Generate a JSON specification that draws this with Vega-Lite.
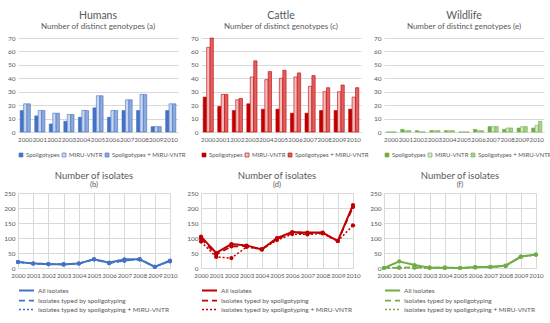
{
"$schema":"https://vega.github.io/schema/vega-lite/v6.json",
"padding":{"left":3,"right":3,"top":10,"bottom":2},
"datasets":{
"geno":[
{"h":"Humans","yr":"2000","t":"Spoligotypes","n":16},{"h":"Humans","yr":"2000","t":"MIRU-VNTR","n":21},{"h":"Humans","yr":"2000","t":"Spoligotypes + MIRU-VNTR","n":21},
{"h":"Humans","yr":"2001","t":"Spoligotypes","n":12},{"h":"Humans","yr":"2001","t":"MIRU-VNTR","n":16},{"h":"Humans","yr":"2001","t":"Spoligotypes + MIRU-VNTR","n":16},
{"h":"Humans","yr":"2002","t":"Spoligotypes","n":6},{"h":"Humans","yr":"2002","t":"MIRU-VNTR","n":14},{"h":"Humans","yr":"2002","t":"Spoligotypes + MIRU-VNTR","n":14},
{"h":"Humans","yr":"2003","t":"Spoligotypes","n":8},{"h":"Humans","yr":"2003","t":"MIRU-VNTR","n":13},{"h":"Humans","yr":"2003","t":"Spoligotypes + MIRU-VNTR","n":13},
{"h":"Humans","yr":"2004","t":"Spoligotypes","n":11},{"h":"Humans","yr":"2004","t":"MIRU-VNTR","n":16},{"h":"Humans","yr":"2004","t":"Spoligotypes + MIRU-VNTR","n":16},
{"h":"Humans","yr":"2005","t":"Spoligotypes","n":18},{"h":"Humans","yr":"2005","t":"MIRU-VNTR","n":27},{"h":"Humans","yr":"2005","t":"Spoligotypes + MIRU-VNTR","n":27},
{"h":"Humans","yr":"2006","t":"Spoligotypes","n":11},{"h":"Humans","yr":"2006","t":"MIRU-VNTR","n":16},{"h":"Humans","yr":"2006","t":"Spoligotypes + MIRU-VNTR","n":16},
{"h":"Humans","yr":"2007","t":"Spoligotypes","n":16},{"h":"Humans","yr":"2007","t":"MIRU-VNTR","n":24},{"h":"Humans","yr":"2007","t":"Spoligotypes + MIRU-VNTR","n":24},
{"h":"Humans","yr":"2008","t":"Spoligotypes","n":16},{"h":"Humans","yr":"2008","t":"MIRU-VNTR","n":28},{"h":"Humans","yr":"2008","t":"Spoligotypes + MIRU-VNTR","n":28},
{"h":"Humans","yr":"2009","t":"Spoligotypes","n":4},{"h":"Humans","yr":"2009","t":"MIRU-VNTR","n":4},{"h":"Humans","yr":"2009","t":"Spoligotypes + MIRU-VNTR","n":4},
{"h":"Humans","yr":"2010","t":"Spoligotypes","n":16},{"h":"Humans","yr":"2010","t":"MIRU-VNTR","n":21},{"h":"Humans","yr":"2010","t":"Spoligotypes + MIRU-VNTR","n":21},
{"h":"Cattle","yr":"2000","t":"Spoligotypes","n":26},{"h":"Cattle","yr":"2000","t":"MIRU-VNTR","n":63},{"h":"Cattle","yr":"2000","t":"Spoligotypes + MIRU-VNTR","n":70},
{"h":"Cattle","yr":"2001","t":"Spoligotypes","n":19},{"h":"Cattle","yr":"2001","t":"MIRU-VNTR","n":28},{"h":"Cattle","yr":"2001","t":"Spoligotypes + MIRU-VNTR","n":28},
{"h":"Cattle","yr":"2002","t":"Spoligotypes","n":16},{"h":"Cattle","yr":"2002","t":"MIRU-VNTR","n":24},{"h":"Cattle","yr":"2002","t":"Spoligotypes + MIRU-VNTR","n":25},
{"h":"Cattle","yr":"2003","t":"Spoligotypes","n":21},{"h":"Cattle","yr":"2003","t":"MIRU-VNTR","n":41},{"h":"Cattle","yr":"2003","t":"Spoligotypes + MIRU-VNTR","n":53},
{"h":"Cattle","yr":"2004","t":"Spoligotypes","n":17},{"h":"Cattle","yr":"2004","t":"MIRU-VNTR","n":39},{"h":"Cattle","yr":"2004","t":"Spoligotypes + MIRU-VNTR","n":45},
{"h":"Cattle","yr":"2005","t":"Spoligotypes","n":17},{"h":"Cattle","yr":"2005","t":"MIRU-VNTR","n":40},{"h":"Cattle","yr":"2005","t":"Spoligotypes + MIRU-VNTR","n":46},
{"h":"Cattle","yr":"2006","t":"Spoligotypes","n":14},{"h":"Cattle","yr":"2006","t":"MIRU-VNTR","n":41},{"h":"Cattle","yr":"2006","t":"Spoligotypes + MIRU-VNTR","n":44},
{"h":"Cattle","yr":"2007","t":"Spoligotypes","n":14},{"h":"Cattle","yr":"2007","t":"MIRU-VNTR","n":34},{"h":"Cattle","yr":"2007","t":"Spoligotypes + MIRU-VNTR","n":42},
{"h":"Cattle","yr":"2008","t":"Spoligotypes","n":16},{"h":"Cattle","yr":"2008","t":"MIRU-VNTR","n":30},{"h":"Cattle","yr":"2008","t":"Spoligotypes + MIRU-VNTR","n":33},
{"h":"Cattle","yr":"2009","t":"Spoligotypes","n":16},{"h":"Cattle","yr":"2009","t":"MIRU-VNTR","n":30},{"h":"Cattle","yr":"2009","t":"Spoligotypes + MIRU-VNTR","n":35},
{"h":"Cattle","yr":"2010","t":"Spoligotypes","n":17},{"h":"Cattle","yr":"2010","t":"MIRU-VNTR","n":26},{"h":"Cattle","yr":"2010","t":"Spoligotypes + MIRU-VNTR","n":33},
{"h":"Wildlife","yr":"2000","t":"Spoligotypes","n":0},{"h":"Wildlife","yr":"2000","t":"MIRU-VNTR","n":0},{"h":"Wildlife","yr":"2000","t":"Spoligotypes + MIRU-VNTR","n":0},
{"h":"Wildlife","yr":"2001","t":"Spoligotypes","n":2},{"h":"Wildlife","yr":"2001","t":"MIRU-VNTR","n":1},{"h":"Wildlife","yr":"2001","t":"Spoligotypes + MIRU-VNTR","n":1},
{"h":"Wildlife","yr":"2002","t":"Spoligotypes","n":1},{"h":"Wildlife","yr":"2002","t":"MIRU-VNTR","n":0},{"h":"Wildlife","yr":"2002","t":"Spoligotypes + MIRU-VNTR","n":0},
{"h":"Wildlife","yr":"2003","t":"Spoligotypes","n":1},{"h":"Wildlife","yr":"2003","t":"MIRU-VNTR","n":1},{"h":"Wildlife","yr":"2003","t":"Spoligotypes + MIRU-VNTR","n":1},
{"h":"Wildlife","yr":"2004","t":"Spoligotypes","n":1},{"h":"Wildlife","yr":"2004","t":"MIRU-VNTR","n":1},{"h":"Wildlife","yr":"2004","t":"Spoligotypes + MIRU-VNTR","n":1},
{"h":"Wildlife","yr":"2005","t":"Spoligotypes","n":0},{"h":"Wildlife","yr":"2005","t":"MIRU-VNTR","n":0},{"h":"Wildlife","yr":"2005","t":"Spoligotypes + MIRU-VNTR","n":0},
{"h":"Wildlife","yr":"2006","t":"Spoligotypes","n":2},{"h":"Wildlife","yr":"2006","t":"MIRU-VNTR","n":1},{"h":"Wildlife","yr":"2006","t":"Spoligotypes + MIRU-VNTR","n":1},
{"h":"Wildlife","yr":"2007","t":"Spoligotypes","n":4},{"h":"Wildlife","yr":"2007","t":"MIRU-VNTR","n":4},{"h":"Wildlife","yr":"2007","t":"Spoligotypes + MIRU-VNTR","n":4},
{"h":"Wildlife","yr":"2008","t":"Spoligotypes","n":2},{"h":"Wildlife","yr":"2008","t":"MIRU-VNTR","n":3},{"h":"Wildlife","yr":"2008","t":"Spoligotypes + MIRU-VNTR","n":3},
{"h":"Wildlife","yr":"2009","t":"Spoligotypes","n":3},{"h":"Wildlife","yr":"2009","t":"MIRU-VNTR","n":4},{"h":"Wildlife","yr":"2009","t":"Spoligotypes + MIRU-VNTR","n":4},
{"h":"Wildlife","yr":"2010","t":"Spoligotypes","n":3},{"h":"Wildlife","yr":"2010","t":"MIRU-VNTR","n":5},{"h":"Wildlife","yr":"2010","t":"Spoligotypes + MIRU-VNTR","n":8}
],
"iso":[
{"h":"Humans","yr":"2000","s":"All isolates","n":20},{"h":"Humans","yr":"2000","s":"Isolates typed by spoligotyping","n":20},{"h":"Humans","yr":"2000","s":"Isolates typed by spoligotyping + MIRU-VNTR","n":20},
{"h":"Humans","yr":"2001","s":"All isolates","n":15},{"h":"Humans","yr":"2001","s":"Isolates typed by spoligotyping","n":15},{"h":"Humans","yr":"2001","s":"Isolates typed by spoligotyping + MIRU-VNTR","n":15},
{"h":"Humans","yr":"2002","s":"All isolates","n":13},{"h":"Humans","yr":"2002","s":"Isolates typed by spoligotyping","n":13},{"h":"Humans","yr":"2002","s":"Isolates typed by spoligotyping + MIRU-VNTR","n":13},
{"h":"Humans","yr":"2003","s":"All isolates","n":12},{"h":"Humans","yr":"2003","s":"Isolates typed by spoligotyping","n":12},{"h":"Humans","yr":"2003","s":"Isolates typed by spoligotyping + MIRU-VNTR","n":12},
{"h":"Humans","yr":"2004","s":"All isolates","n":15},{"h":"Humans","yr":"2004","s":"Isolates typed by spoligotyping","n":15},{"h":"Humans","yr":"2004","s":"Isolates typed by spoligotyping + MIRU-VNTR","n":15},
{"h":"Humans","yr":"2005","s":"All isolates","n":29},{"h":"Humans","yr":"2005","s":"Isolates typed by spoligotyping","n":29},{"h":"Humans","yr":"2005","s":"Isolates typed by spoligotyping + MIRU-VNTR","n":29},
{"h":"Humans","yr":"2006","s":"All isolates","n":18},{"h":"Humans","yr":"2006","s":"Isolates typed by spoligotyping","n":16},{"h":"Humans","yr":"2006","s":"Isolates typed by spoligotyping + MIRU-VNTR","n":16},
{"h":"Humans","yr":"2007","s":"All isolates","n":29},{"h":"Humans","yr":"2007","s":"Isolates typed by spoligotyping","n":25},{"h":"Humans","yr":"2007","s":"Isolates typed by spoligotyping + MIRU-VNTR","n":24},
{"h":"Humans","yr":"2008","s":"All isolates","n":29},{"h":"Humans","yr":"2008","s":"Isolates typed by spoligotyping","n":29},{"h":"Humans","yr":"2008","s":"Isolates typed by spoligotyping + MIRU-VNTR","n":29},
{"h":"Humans","yr":"2009","s":"All isolates","n":4},{"h":"Humans","yr":"2009","s":"Isolates typed by spoligotyping","n":4},{"h":"Humans","yr":"2009","s":"Isolates typed by spoligotyping + MIRU-VNTR","n":4},
{"h":"Humans","yr":"2010","s":"All isolates","n":25},{"h":"Humans","yr":"2010","s":"Isolates typed by spoligotyping","n":23},{"h":"Humans","yr":"2010","s":"Isolates typed by spoligotyping + MIRU-VNTR","n":22},
{"h":"Cattle","yr":"2000","s":"All isolates","n":105},{"h":"Cattle","yr":"2000","s":"Isolates typed by spoligotyping","n":98},{"h":"Cattle","yr":"2000","s":"Isolates typed by spoligotyping + MIRU-VNTR","n":88},
{"h":"Cattle","yr":"2001","s":"All isolates","n":50},{"h":"Cattle","yr":"2001","s":"Isolates typed by spoligotyping","n":45},{"h":"Cattle","yr":"2001","s":"Isolates typed by spoligotyping + MIRU-VNTR","n":37},
{"h":"Cattle","yr":"2002","s":"All isolates","n":80},{"h":"Cattle","yr":"2002","s":"Isolates typed by spoligotyping","n":72},{"h":"Cattle","yr":"2002","s":"Isolates typed by spoligotyping + MIRU-VNTR","n":33},
{"h":"Cattle","yr":"2003","s":"All isolates","n":75},{"h":"Cattle","yr":"2003","s":"Isolates typed by spoligotyping","n":73},{"h":"Cattle","yr":"2003","s":"Isolates typed by spoligotyping + MIRU-VNTR","n":70},
{"h":"Cattle","yr":"2004","s":"All isolates","n":62},{"h":"Cattle","yr":"2004","s":"Isolates typed by spoligotyping","n":62},{"h":"Cattle","yr":"2004","s":"Isolates typed by spoligotyping + MIRU-VNTR","n":62},
{"h":"Cattle","yr":"2005","s":"All isolates","n":100},{"h":"Cattle","yr":"2005","s":"Isolates typed by spoligotyping","n":97},{"h":"Cattle","yr":"2005","s":"Isolates typed by spoligotyping + MIRU-VNTR","n":93},
{"h":"Cattle","yr":"2006","s":"All isolates","n":120},{"h":"Cattle","yr":"2006","s":"Isolates typed by spoligotyping","n":117},{"h":"Cattle","yr":"2006","s":"Isolates typed by spoligotyping + MIRU-VNTR","n":113},
{"h":"Cattle","yr":"2007","s":"All isolates","n":118},{"h":"Cattle","yr":"2007","s":"Isolates typed by spoligotyping","n":115},{"h":"Cattle","yr":"2007","s":"Isolates typed by spoligotyping + MIRU-VNTR","n":112},
{"h":"Cattle","yr":"2008","s":"All isolates","n":118},{"h":"Cattle","yr":"2008","s":"Isolates typed by spoligotyping","n":117},{"h":"Cattle","yr":"2008","s":"Isolates typed by spoligotyping + MIRU-VNTR","n":115},
{"h":"Cattle","yr":"2009","s":"All isolates","n":90},{"h":"Cattle","yr":"2009","s":"Isolates typed by spoligotyping","n":90},{"h":"Cattle","yr":"2009","s":"Isolates typed by spoligotyping + MIRU-VNTR","n":90},
{"h":"Cattle","yr":"2010","s":"All isolates","n":210},{"h":"Cattle","yr":"2010","s":"Isolates typed by spoligotyping","n":203},{"h":"Cattle","yr":"2010","s":"Isolates typed by spoligotyping + MIRU-VNTR","n":142},
{"h":"Wildlife","yr":"2000","s":"All isolates","n":0},{"h":"Wildlife","yr":"2000","s":"Isolates typed by spoligotyping","n":0},{"h":"Wildlife","yr":"2000","s":"Isolates typed by spoligotyping + MIRU-VNTR","n":0},
{"h":"Wildlife","yr":"2001","s":"All isolates","n":22},{"h":"Wildlife","yr":"2001","s":"Isolates typed by spoligotyping","n":1},{"h":"Wildlife","yr":"2001","s":"Isolates typed by spoligotyping + MIRU-VNTR","n":1},
{"h":"Wildlife","yr":"2002","s":"All isolates","n":10},{"h":"Wildlife","yr":"2002","s":"Isolates typed by spoligotyping","n":2},{"h":"Wildlife","yr":"2002","s":"Isolates typed by spoligotyping + MIRU-VNTR","n":1},
{"h":"Wildlife","yr":"2003","s":"All isolates","n":1},{"h":"Wildlife","yr":"2003","s":"Isolates typed by spoligotyping","n":1},{"h":"Wildlife","yr":"2003","s":"Isolates typed by spoligotyping + MIRU-VNTR","n":0},
{"h":"Wildlife","yr":"2004","s":"All isolates","n":1},{"h":"Wildlife","yr":"2004","s":"Isolates typed by spoligotyping","n":1},{"h":"Wildlife","yr":"2004","s":"Isolates typed by spoligotyping + MIRU-VNTR","n":0},
{"h":"Wildlife","yr":"2005","s":"All isolates","n":0},{"h":"Wildlife","yr":"2005","s":"Isolates typed by spoligotyping","n":0},{"h":"Wildlife","yr":"2005","s":"Isolates typed by spoligotyping + MIRU-VNTR","n":0},
{"h":"Wildlife","yr":"2006","s":"All isolates","n":3},{"h":"Wildlife","yr":"2006","s":"Isolates typed by spoligotyping","n":2},{"h":"Wildlife","yr":"2006","s":"Isolates typed by spoligotyping + MIRU-VNTR","n":2},
{"h":"Wildlife","yr":"2007","s":"All isolates","n":4},{"h":"Wildlife","yr":"2007","s":"Isolates typed by spoligotyping","n":3},{"h":"Wildlife","yr":"2007","s":"Isolates typed by spoligotyping + MIRU-VNTR","n":3},
{"h":"Wildlife","yr":"2008","s":"All isolates","n":8},{"h":"Wildlife","yr":"2008","s":"Isolates typed by spoligotyping","n":7},{"h":"Wildlife","yr":"2008","s":"Isolates typed by spoligotyping + MIRU-VNTR","n":6},
{"h":"Wildlife","yr":"2009","s":"All isolates","n":38},{"h":"Wildlife","yr":"2009","s":"Isolates typed by spoligotyping","n":38},{"h":"Wildlife","yr":"2009","s":"Isolates typed by spoligotyping + MIRU-VNTR","n":37},
{"h":"Wildlife","yr":"2010","s":"All isolates","n":45},{"h":"Wildlife","yr":"2010","s":"Isolates typed by spoligotyping","n":45},{"h":"Wildlife","yr":"2010","s":"Isolates typed by spoligotyping + MIRU-VNTR","n":44}
]
},
"spacing":12,
"resolve":{"scale":{"color":"independent","strokeDash":"independent","strokeWidth":"independent","x":"independent","y":"independent"},"legend":{"color":"independent","strokeDash":"independent","strokeWidth":"independent"}},
"vconcat":[
{"hconcat":[
{"width":160,"height":94,"title":{"text":"Humans","subtitle":"Number of distinct genotypes (a)"},
"data":{"name":"geno"},"transform":[{"filter":"datum.h==='Humans'"}],
"mark":{"type":"bar","stroke":"#4472C4","strokeWidth":0.6},
"encoding":{
"x":{"field":"yr","type":"ordinal","scale":{"paddingInner":0.3,"paddingOuter":0.15},"axis":{"title":null,"labelAngle":0}},
"xOffset":{"field":"t","scale":{"domain":["Spoligotypes","MIRU-VNTR","Spoligotypes + MIRU-VNTR"],"paddingInner":0.05}},
"y":{"field":"n","type":"quantitative","scale":{"domain":[0,70]},"axis":{"title":null,"values":[0,10,20,30,40,50,60,70]}},
"color":{"field":"t","scale":{"domain":["Spoligotypes","MIRU-VNTR","Spoligotypes + MIRU-VNTR"],"range":["#4472C4","#C9D6EF","#8EA9DB"]},"legend":{"orient":"bottom","direction":"horizontal","title":null,"symbolType":"square","symbolSize":16,"columnPadding":0,"labelOffset":2,"labelFontSize":6,"offset":9,"gridAlign":"none","symbolStrokeColor":"#4472C4","symbolStrokeWidth":0.6}}}},
{"width":160,"height":94,"title":{"text":"Cattle","subtitle":"Number of distinct genotypes (c)"},
"data":{"name":"geno"},"transform":[{"filter":"datum.h==='Cattle'"}],
"mark":{"type":"bar","stroke":"#C00000","strokeWidth":0.6},
"encoding":{
"x":{"field":"yr","type":"ordinal","scale":{"paddingInner":0.3,"paddingOuter":0.15},"axis":{"title":null,"labelAngle":0}},
"xOffset":{"field":"t","scale":{"domain":["Spoligotypes","MIRU-VNTR","Spoligotypes + MIRU-VNTR"],"paddingInner":0.05}},
"y":{"field":"n","type":"quantitative","scale":{"domain":[0,70]},"axis":{"title":null,"values":[0,10,20,30,40,50,60,70]}},
"color":{"field":"t","scale":{"domain":["Spoligotypes","MIRU-VNTR","Spoligotypes + MIRU-VNTR"],"range":["#C00000","#F2BDBD","#E06060"]},"legend":{"orient":"bottom","direction":"horizontal","title":null,"symbolType":"square","symbolSize":16,"columnPadding":0,"labelOffset":2,"labelFontSize":6,"offset":9,"gridAlign":"none","symbolStrokeColor":"#C00000","symbolStrokeWidth":0.6}}}},
{"width":160,"height":94,"title":{"text":"Wildlife","subtitle":"Number of distinct genotypes (e)"},
"data":{"name":"geno"},"transform":[{"filter":"datum.h==='Wildlife'"}],
"mark":{"type":"bar","stroke":"#70AD47","strokeWidth":0.6},
"encoding":{
"x":{"field":"yr","type":"ordinal","scale":{"paddingInner":0.3,"paddingOuter":0.15},"axis":{"title":null,"labelAngle":0}},
"xOffset":{"field":"t","scale":{"domain":["Spoligotypes","MIRU-VNTR","Spoligotypes + MIRU-VNTR"],"paddingInner":0.05}},
"y":{"field":"n","type":"quantitative","scale":{"domain":[0,70]},"axis":{"title":null,"values":[0,10,20,30,40,50,60,70]}},
"color":{"field":"t","scale":{"domain":["Spoligotypes","MIRU-VNTR","Spoligotypes + MIRU-VNTR"],"range":["#70AD47","#D5E8C8","#A9D18E"]},"legend":{"orient":"bottom","direction":"horizontal","title":null,"symbolType":"square","symbolSize":16,"columnPadding":0,"labelOffset":2,"labelFontSize":6,"offset":9,"gridAlign":"none","symbolStrokeColor":"#70AD47","symbolStrokeWidth":0.6}}}}
],"spacing":23,"bounds":"flush",
"resolve":{"scale":{"color":"independent","x":"independent","y":"independent"},"legend":{"color":"independent"}}},
{"hconcat":[
{"width":152,"height":75,"title":{"text":"Number of isolates","subtitle":"(b)","fontSize":9.5,"subtitleFontSize":7.5,"offset":2,"subtitlePadding":0},
"data":{"name":"iso"},"transform":[{"filter":"datum.h==='Humans'"}],
"encoding":{
"x":{"field":"yr","type":"ordinal","scale":{"type":"point","padding":0},"axis":{"title":null,"labelAngle":0,"grid":true}},
"y":{"field":"n","type":"quantitative","scale":{"domain":[0,250]},"axis":{"title":null,"values":[0,50,100,150,200,250]}}},
"layer":[
{"mark":{"type":"line","color":"#4472C4"},"encoding":{
"strokeDash":{"field":"s","scale":{"domain":["All isolates","Isolates typed by spoligotyping","Isolates typed by spoligotyping + MIRU-VNTR"],"range":[[1,0],[6,4],[2,2]]},"legend":{"orient":"bottom","direction":"vertical","title":null,"symbolType":"M-1,0H1","symbolSize":225,"offset":3,"symbolStrokeColor":"#4472C4"}},
"strokeWidth":{"field":"s","scale":{"domain":["All isolates","Isolates typed by spoligotyping","Isolates typed by spoligotyping + MIRU-VNTR"],"range":[2,1.5,1]},"legend":{"orient":"bottom","direction":"vertical","title":null,"symbolType":"M-1,0H1","symbolSize":225,"offset":3,"symbolStrokeColor":"#4472C4"}}}},
{"mark":{"type":"circle","color":"#4472C4","size":18,"opacity":1}}
]},
{"width":152,"height":75,"title":{"text":"Number of isolates","subtitle":"(d)","fontSize":9.5,"subtitleFontSize":7.5,"offset":2,"subtitlePadding":0},
"data":{"name":"iso"},"transform":[{"filter":"datum.h==='Cattle'"}],
"encoding":{
"x":{"field":"yr","type":"ordinal","scale":{"type":"point","padding":0},"axis":{"title":null,"labelAngle":0,"grid":true}},
"y":{"field":"n","type":"quantitative","scale":{"domain":[0,250]},"axis":{"title":null,"values":[0,50,100,150,200,250]}}},
"layer":[
{"mark":{"type":"line","color":"#C00000"},"encoding":{
"strokeDash":{"field":"s","scale":{"domain":["All isolates","Isolates typed by spoligotyping","Isolates typed by spoligotyping + MIRU-VNTR"],"range":[[1,0],[6,4],[2,2]]},"legend":{"orient":"bottom","direction":"vertical","title":null,"symbolType":"M-1,0H1","symbolSize":225,"offset":3,"symbolStrokeColor":"#C00000"}},
"strokeWidth":{"field":"s","scale":{"domain":["All isolates","Isolates typed by spoligotyping","Isolates typed by spoligotyping + MIRU-VNTR"],"range":[2,1.5,1]},"legend":{"orient":"bottom","direction":"vertical","title":null,"symbolType":"M-1,0H1","symbolSize":225,"offset":3,"symbolStrokeColor":"#C00000"}}}},
{"mark":{"type":"circle","color":"#C00000","size":18,"opacity":1}}
]},
{"width":152,"height":75,"title":{"text":"Number of isolates","subtitle":"(f)","fontSize":9.5,"subtitleFontSize":7.5,"offset":2,"subtitlePadding":0},
"data":{"name":"iso"},"transform":[{"filter":"datum.h==='Wildlife'"}],
"encoding":{
"x":{"field":"yr","type":"ordinal","scale":{"type":"point","padding":0},"axis":{"title":null,"labelAngle":0,"grid":true}},
"y":{"field":"n","type":"quantitative","scale":{"domain":[0,250]},"axis":{"title":null,"values":[0,50,100,150,200,250]}}},
"layer":[
{"mark":{"type":"line","color":"#70AD47"},"encoding":{
"strokeDash":{"field":"s","scale":{"domain":["All isolates","Isolates typed by spoligotyping","Isolates typed by spoligotyping + MIRU-VNTR"],"range":[[1,0],[6,4],[2,2]]},"legend":{"orient":"bottom","direction":"vertical","title":null,"symbolType":"M-1,0H1","symbolSize":225,"offset":3,"symbolStrokeColor":"#70AD47"}},
"strokeWidth":{"field":"s","scale":{"domain":["All isolates","Isolates typed by spoligotyping","Isolates typed by spoligotyping + MIRU-VNTR"],"range":[2,1.5,1]},"legend":{"orient":"bottom","direction":"vertical","title":null,"symbolType":"M-1,0H1","symbolSize":225,"offset":3,"symbolStrokeColor":"#70AD47"}}}},
{"mark":{"type":"circle","color":"#70AD47","size":18,"opacity":1}}
]}
],"spacing":31,"bounds":"flush",
"resolve":{"scale":{"strokeDash":"independent","strokeWidth":"independent","x":"independent","y":"independent"},"legend":{"strokeDash":"independent","strokeWidth":"independent"}}}
],
"config":{
"font":"Lato",
"view":{"stroke":null},
"title":{"fontSize":10.5,"fontWeight":"normal","color":"#595959","subtitleFontSize":8,"subtitleColor":"#595959","offset":4,"subtitlePadding":2},
"axis":{"labelFontSize":6.5,"labelColor":"#595959","gridColor":"#D9D9D9","domainColor":"#D9D9D9","ticks":false,"labelPadding":3,"labelOverlap":false},
"axisY":{"domain":false},
"axisX":{"grid":false,"labelPadding":4,"labelFontSize":6.2},
"legend":{"labelFontSize":6.5,"labelColor":"#595959","symbolSize":30,"columnPadding":6,"rowPadding":-3,"offset":6,"padding":0,"labelLimit":300,"labelOffset":3,"gridAlign":"none"}
}
}
